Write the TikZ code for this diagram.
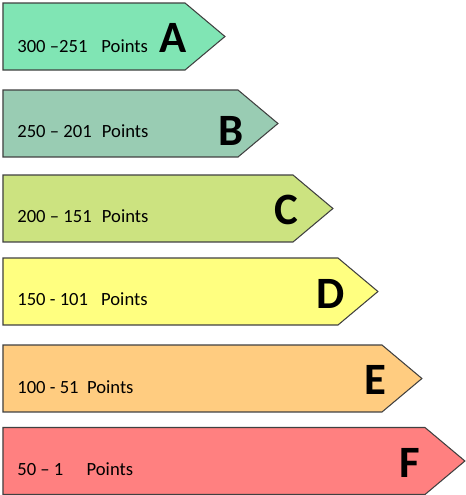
\documentclass[tikz,border=0pt]{standalone}
\usepackage{fontspec}
\setmainfont{Carlito}
\usetikzlibrary{shapes.symbols}

\definecolor{bandA}{RGB}{128,229,180}
\definecolor{bandB}{RGB}{153,204,179}
\definecolor{bandC}{RGB}{204,227,128}
\definecolor{bandD}{RGB}{255,255,128}
\definecolor{bandE}{RGB}{255,204,128}
\definecolor{bandF}{RGB}{255,128,128}

\begin{document}
\begin{tikzpicture}[x=0.02cm, y=-0.02cm]
% Define band styles
\tikzstyle{band} = [signal, signal to=east, signal pointer angle=80, draw=black!75, line width=0.6pt, inner sep=0pt, outer sep=0pt, minimum height=1.34cm, anchor=west]
\tikzstyle{pointrange} = [anchor=base west, inner sep=0pt, font=\fontsize{10.6}{12}\selectfont]
\tikzstyle{grade} = [anchor=base east, inner sep=0pt, font=\fontsize{25.5}{30}\selectfont\bfseries]

\useasboundingbox (0,0) rectangle (466,495);

% Bands
\node[band, fill=bandA, minimum width=4.44cm] (bandA) at (3,36.5) {};
\node[band, fill=bandB, minimum width=5.50cm] (bandB) at (3,123.5) {};
\node[band, fill=bandC, minimum width=6.60cm] (bandC) at (3,208.5) {};
\node[band, fill=bandD, minimum width=7.50cm] (bandD) at (3,291.5) {};
\node[band, fill=bandE, minimum width=8.38cm] (bandE) at (3,378.5) {};
\node[band, fill=bandF, minimum width=9.24cm] (bandF) at (3,461) {};

% Point ranges
\node[pointrange] (rangeA) at (17,52) {300 --251\hspace{0.75em}Points};
\node[pointrange] (rangeB) at (17,137) {250 -- 201\hspace{0.55em}Points};
\node[pointrange] (rangeC) at (17,222) {200 -- 151\hspace{0.55em}Points};
\node[pointrange] (rangeD) at (17,305) {150 - 101\hspace{0.7em}Points};
\node[pointrange] (rangeE) at (17,393) {100 - 51\hspace{0.45em}Points};
\node[pointrange] (rangeF) at (17,475) {50 -- 1\hspace{1.25em}Points};

% Grades
\node[grade] (gradeA) at (187,52) {A};
\node[grade] (gradeB) at (244,145) {B};
\node[grade] (gradeC) at (299,224) {C};
\node[grade] (gradeD) at (345,308) {D};
\node[grade] (gradeE) at (387,394) {E};
\node[grade] (gradeF) at (420,477) {F};

\end{tikzpicture}
\end{document}
